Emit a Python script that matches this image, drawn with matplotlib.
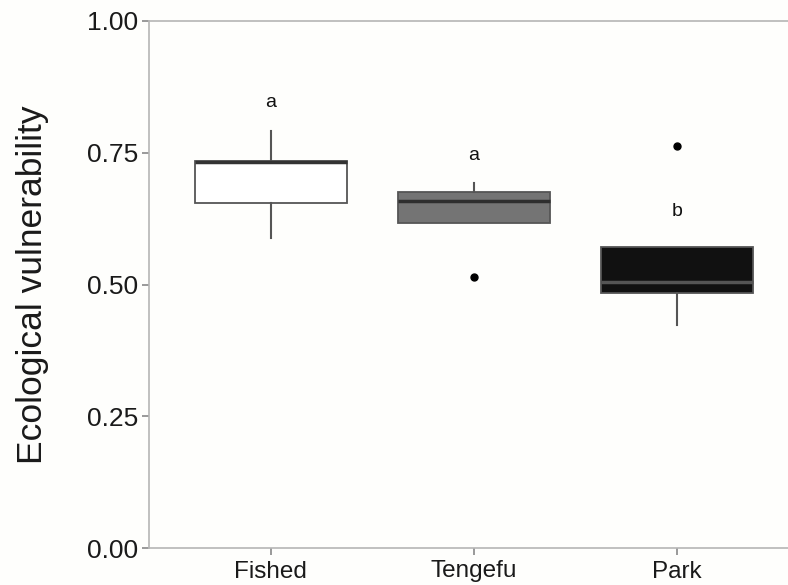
import matplotlib
matplotlib.use("Agg")
import matplotlib.pyplot as plt

categories = ["Fished", "Tengefu", "Park"]
whisker_low = [0.588, 0.616, 0.424]
q1 = [0.655, 0.616, 0.484]
median = [0.732, 0.659, 0.505]
q3 = [0.735, 0.675, 0.572]
whisker_high = [0.792, 0.693, 0.572]
outliers = [[], [0.514], [0.763]]
letters = ["a", "a", "b"]
letter_y = [0.845, 0.744, 0.638]
fill_colors = ["#ffffff", "#747474", "#111111"]
median_colors = ["#333333", "#2e2e2e", "#555555"]

plt.rcParams["font.family"] = ["Liberation Sans", "DejaVu Sans"]

fig = plt.figure(figsize=(7.88, 5.85), dpi=100)
fig.patch.set_facecolor("#fefefc")
ax = fig.add_axes([149/788, 37/585, 650/788, 527/585])
ax.set_facecolor("#fefefc")

stats = []
for i, c in enumerate(categories):
    stats.append(dict(label=c, whislo=whisker_low[i], q1=q1[i], med=median[i],
                      q3=q3[i], whishi=whisker_high[i], fliers=outliers[i]))

pos = list(range(1, len(categories) + 1))
bp = ax.bxp(stats, positions=pos, widths=0.75, patch_artist=True, showcaps=False,
            boxprops=dict(edgecolor="#555555", linewidth=1.3),
            whiskerprops=dict(color="#555555", linewidth=1.5),
            medianprops=dict(linewidth=2.5),
            flierprops=dict(marker="o", markerfacecolor="black", markeredgecolor="black",
                            markersize=5))
for patch, fc in zip(bp["boxes"], fill_colors):
    patch.set_facecolor(fc)
for m, mc in zip(bp["medians"], median_colors):
    m.set_color(mc)

for i, (t, y) in enumerate(zip(letters, letter_y)):
    ax.text(pos[i], y, t, ha="center", va="center", fontsize=14, color="#111111")

ax.set_xlim(0.4, 3.6)
ax.set_ylim(0, 1)
ax.set_yticks([0, 0.25, 0.5, 0.75, 1.0])
ax.set_yticklabels(["0.00", "0.25", "0.50", "0.75", "1.00"])
ax.set_xticks(pos)
ax.set_xticklabels(categories)
for s in ["left", "bottom", "top"]:
    ax.spines[s].set_color("#b5b5b5")
    ax.spines[s].set_linewidth(1.2)
ax.spines["right"].set_visible(False)
ax.tick_params(axis="both", colors="#888888", length=5, width=1.2, pad=3,
               labelcolor="#1a1a1a")
ax.tick_params(axis="y", labelsize=19)
ax.tick_params(axis="x", labelsize=17.5, pad=4)
ax.set_ylabel("Ecological vulnerability", fontsize=25.5, color="#1a1a1a", labelpad=27)

fig.savefig("out.png", dpi=100, facecolor=fig.get_facecolor())
